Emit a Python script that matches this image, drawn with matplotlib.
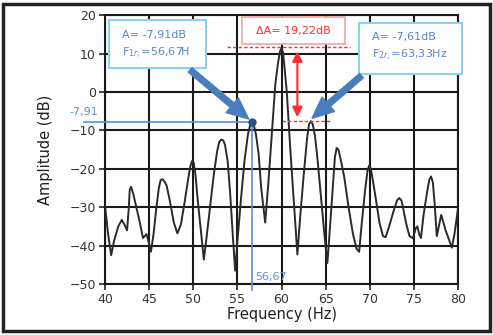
import matplotlib
matplotlib.use("Agg")
import matplotlib.pyplot as plt
from matplotlib.patches import Rectangle, FancyArrowPatch

side1_freq, side1_db = 56.67, -7.91
side2_freq, side2_db = 63.33, -7.61
delta_db = 19.22
main_db = side2_db + delta_db

# Spectrum trace (Hz, dB)
freq = [40.0, 40.35, 40.7, 41.0, 41.5, 41.9, 42.2, 42.5, 42.7, 42.8, 42.95, 43.2, 43.5,
        43.9, 44.3, 44.7, 45.0, 45.2, 45.5, 45.8, 46.1, 46.3, 46.5, 46.8, 47.0, 47.4,
        47.8, 48.2, 48.6, 49.0, 49.4, 49.65, 49.85, 50.05, 50.25, 50.5, 50.9, 51.2, 51.5,
        51.9, 52.3, 52.7, 52.95, 53.15, 53.4, 53.6, 53.9, 54.2, 54.5, 54.75, 55.0, 55.4,
        55.8, 56.2, 56.45, side1_freq, 56.88, 57.1, 57.4, 57.7, 58.15, 58.5, 58.9, 59.3,
        59.6, 59.82, 60.0, 60.18, 60.4, 60.6, 61.0, 61.5, 61.8, 62.1, 62.5, 62.9, 63.12,
        side2_freq, 63.55, 63.8, 64.1, 64.5, 64.9, 65.2, 65.5, 65.8, 66.05, 66.25, 66.45,
        66.7, 67.1, 67.6, 68.1, 68.5, 68.8, 69.1, 69.5, 69.75, 69.92, 70.1, 70.35, 70.7,
        71.1, 71.5, 71.8, 72.2, 72.7, 73.1, 73.35, 73.6, 73.85, 74.1, 74.5, 74.9, 75.2,
        75.4, 75.6, 75.8, 76.1, 76.5, 76.75, 76.95, 77.15, 77.35, 77.6, 78.1, 78.6, 79.3,
        79.6, 80.0]

amp = [-29.5, -37.0, -42.5, -39.0, -35.0, -33.3, -34.5, -36.0, -30.0, -25.5, -24.7, -26.5, -29.5,
       -33.5, -38.0, -37.0, -39.5, -41.6, -37.0, -30.5, -25.0, -23.0, -22.7, -23.5, -24.5, -29.0,
       -34.0, -36.8, -34.5, -29.0, -23.0, -19.5, -18.0, -18.4, -21.5, -28.0, -37.0, -43.6, -38.0,
       -30.0, -22.0, -15.5, -13.0, -12.4, -12.6, -13.8, -18.0, -27.0, -38.0, -46.5, -39.0, -28.0,
       -18.0, -11.0, -8.6, side1_db, -8.8, -11.0, -16.0, -25.0, -34.0, -24.0, -11.0, 2.0,
       7.5, 10.4, main_db, 10.2, 5.0, 0.0, -15.0, -32.0, -42.3, -33.0, -22.0, -12.0, -8.4,
       side2_db, -8.5, -11.5, -18.0, -28.0, -38.0, -44.5, -35.0, -25.0, -17.0, -14.6, -15.0,
       -17.5, -22.0, -30.0, -37.0, -40.8, -41.6, -34.0, -25.0, -20.5, -19.2, -19.8, -23.0, -28.0,
       -34.0, -37.5, -37.8, -35.0, -31.0, -28.2, -27.6, -28.3, -31.0, -34.0, -37.5, -38.1, -35.5,
       -35.0, -37.0, -38.0, -32.0, -26.0, -22.8, -22.0, -23.5, -29.0, -37.5, -32.0, -36.0, -40.5,
       -37.0, -30.3]

x_ticks = [40, 45, 50, 55, 60, 65, 70, 75, 80]
y_ticks = [-50, -40, -30, -20, -10, 0, 10, 20]

label_a1 = "A= -7,91dB"
label_f1 = r"F$_{1r,}$=56,67H"
label_a2 = "A= -7,61dB"
label_f2 = r"F$_{2r,}$=63,33Hz"
label_delta = "ΔA= 19,22dB"

plt.rcParams['font.family'] = ['DejaVu Sans']

fig = plt.figure(figsize=(4.93, 3.35), dpi=100)
ax = fig.add_axes([0.213, 0.152, 0.716, 0.803])

ax.plot(freq, amp, color='#2a2a2a', lw=1.4, zorder=3)

ax.set_xlim(40, 80)
ax.set_ylim(-50, 20)
ax.set_xticks(x_ticks)
ax.set_yticks(y_ticks)
ax.grid(True, color='#1a1a1a', lw=1.5)
ax.set_axisbelow(True)
for s in ax.spines.values():
    s.set_color('#1a1a1a')
    s.set_linewidth(1.5)
ax.tick_params(direction='out', length=4.5, width=1.3, color='#333333',
               labelsize=9, labelcolor='#333333', pad=2)
ax.set_xlabel("Frequency (Hz)", fontsize=10.5, color='#1f1f1f', labelpad=1)
ax.set_ylabel("Amplitude (dB)", fontsize=10.5, color='#1f1f1f', labelpad=12)

# cursor lines at the first side lobe
cur_col = '#5b8fd6'
ax.plot([37.6, side1_freq], [side1_db, side1_db], color=cur_col, lw=1.2,
        clip_on=False, zorder=4)
ax.plot([side1_freq, side1_freq], [side1_db, -51.6], color=cur_col, lw=1.2,
        clip_on=False, zorder=4)
ax.plot([side1_freq], [side1_db], 'o', color='#2c4f86', ms=5, zorder=6)
ax.text(37.6, -6.4, "-7,91", color=cur_col, fontsize=8, ha='center', va='bottom')
ax.text(side1_freq + 0.35, -48.2, "56,67", color=cur_col, fontsize=8,
        ha='left', va='center')

# ΔA markers
red = '#ff2a2a'
ax.plot([53.8, 67.8], [main_db, main_db], color='#e04040', lw=1.0, ls='--',
        dashes=(2.5, 1.5), zorder=5)
ax.plot([60.0, 65.7], [side2_db, side2_db], color='#e04040', lw=1.0, ls='--',
        dashes=(2.5, 1.5), zorder=5)
ax.add_patch(FancyArrowPatch((61.8, main_db - 0.3), (61.8, side2_db + 0.3),
                             arrowstyle='<|-|>,head_length=0.5,head_width=0.25',
                             mutation_scale=12, color=red, lw=1.5, zorder=6))

# annotation boxes
box_blue = '#8ad2ef'
txt_blue = '#5b84c6'
ax.add_patch(Rectangle((40.45, 6.2), 11.0, 12.4, fill=True, fc='white',
                       ec=box_blue, lw=1.5, clip_on=False, zorder=7))
ax.text(41.9, 14.8, label_a1, color=txt_blue, fontsize=8, va='center', zorder=8)
ax.text(41.9, 10.1, label_f1, color=txt_blue, fontsize=8, va='center', zorder=8)

ax.add_patch(Rectangle((68.8, 4.7), 11.7, 13.2, fill=True, fc='white',
                       ec=box_blue, lw=1.5, clip_on=False, zorder=7))
ax.text(70.3, 14.3, label_a2, color=txt_blue, fontsize=8, va='center', zorder=8)
ax.text(70.3, 9.6, label_f2, color=txt_blue, fontsize=8, va='center', zorder=8)

ax.add_patch(Rectangle((55.5, 12.5), 11.7, 6.9, fill=True, fc='white',
                       ec='#f2a3a3', lw=1.2, clip_on=False, zorder=7))
ax.text(61.35, 15.95, label_delta, color=red, fontsize=8, ha='center',
        va='center', zorder=8)

# pointer arrows
arrow_col = '#4a7dbd'
style = 'simple,head_length=1.4,head_width=1.25,tail_width=0.38'
ax.add_patch(FancyArrowPatch((49.4, 6.2), (side1_freq - 0.15, side1_db + 0.4),
                             arrowstyle=style, mutation_scale=11, color=arrow_col,
                             clip_on=False, zorder=7))
ax.add_patch(FancyArrowPatch((69.3, 4.7), (side2_freq - 0.1, side2_db + 0.3),
                             arrowstyle=style, mutation_scale=11, color=arrow_col,
                             clip_on=False, zorder=7))

# outer frame
fig.add_artist(Rectangle((0.007, 0.011), 0.986, 0.978, transform=fig.transFigure,
                         fill=False, ec='#222222', lw=2.5))

fig.savefig("out.png", dpi=100)
